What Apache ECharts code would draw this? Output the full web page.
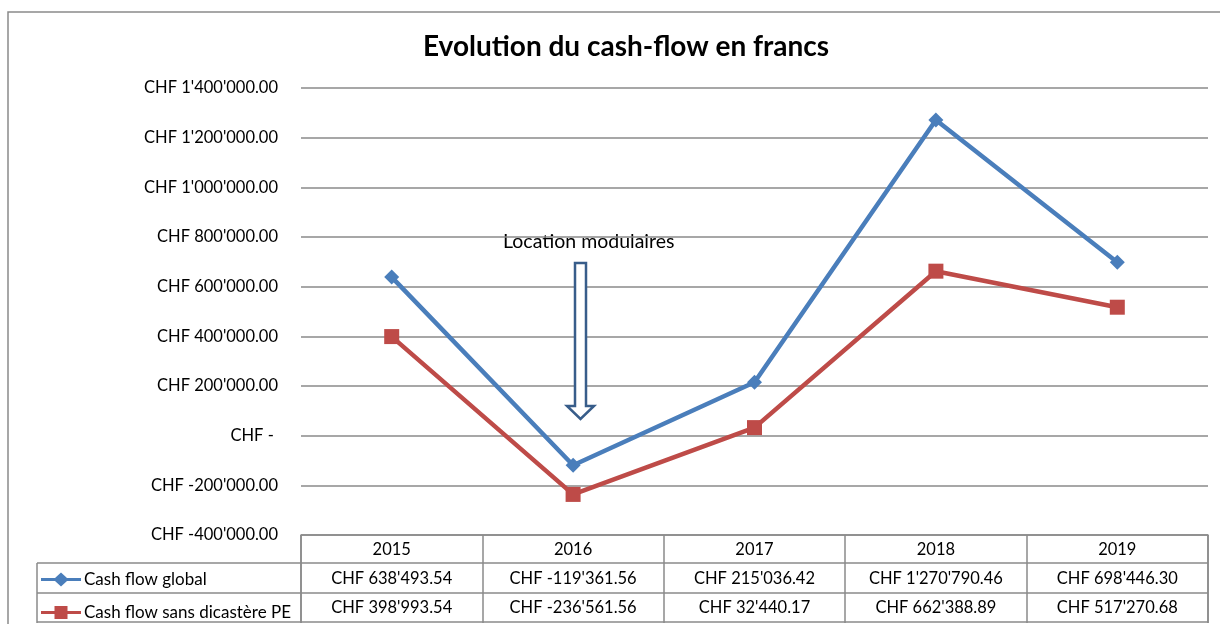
<!DOCTYPE html>
<html>
<head>
    <meta charset="utf-8" />
    <title>Evolution du cash-flow</title>
    <script src="https://cdn.jsdelivr.net/npm/echarts@6/dist/echarts.min.js"></script>
    <style>
        html, body { margin: 0; padding: 0; background: #fff; }
        #main { width: 1220px; height: 624px; }
    </style>
</head>
<body>
    <div id="main"></div>
    <script type="text/javascript">
        // donnees
        var years = ['2015', '2016', '2017', '2018', '2019'];
        var cashGlobal = [638493.54, -119361.56, 215036.42, 1270790.46, 698446.30];
        var cashSansPE = [398993.54, -236561.56, 32440.17, 662388.89, 517270.68];
        var seriesNames = ['Cash flow global', 'Cash flow sans dicastère PE'];

        var font = 'Lato, "Open Sans", sans-serif';
        var blue = '#4a7ebb';
        var red = '#be4b48';
        var gray = '#8a8a8a';

        // icones de legende facon Excel (ligne epaisse + marqueur)
        var iconDiamond = 'path://M0,5.5 H14 L20,0 L26,5.5 H40 V8.5 H26 L20,14 L14,8.5 H0 Z';
        var iconSquare = 'path://M0,5.5 H13.5 V0.5 H26.5 V5.5 H40 V8.5 H26.5 V13.5 H13.5 V8.5 H0 Z';

        function chf(v) {
            if (v === 0) return 'CHF - ';
            var neg = v < 0;
            var parts = Math.abs(v).toFixed(2).split('.');
            var s = parts[0].replace(/\B(?=(\d{3})+(?!\d))/g, "'");
            return 'CHF ' + (neg ? '-' : '') + s + '.' + parts[1];
        }

        var myChart = echarts.init(document.getElementById('main'));

        var L = 301, R = 1208, T = 88, B = 535;

        option = {
            backgroundColor: '#fff',
            animation: false,
            title: {
                text: 'Evolution du cash-flow en francs',
                left: 418,
                top: 28,
                textStyle: { fontFamily: font, fontSize: 28, fontWeight: 'bold', color: '#000' }
            },
            legend: {
                orient: 'vertical',
                left: 41,
                top: 571,
                padding: 0,
                itemWidth: 40,
                itemHeight: 14,
                itemGap: 16,
                textStyle: { fontFamily: font, fontSize: 17, color: '#000', padding: [0, 0, 0, -2] },
                data: [
                    { name: seriesNames[0], icon: iconDiamond },
                    { name: seriesNames[1], icon: iconSquare }
                ]
            },
            grid: { left: L, right: 1220 - R, top: T, bottom: 624 - B, containLabel: false },
            xAxis: {
                type: 'category',
                data: years,
                boundaryGap: true,
                axisLine: { show: true, onZero: false, lineStyle: { color: gray, width: 1.5 } },
                axisTick: { show: true, alignWithLabel: false, inside: false, length: 88, lineStyle: { color: gray, width: 1.5 } },
                axisLabel: {
                    margin: 0,
                    interval: 0,
                    formatter: function (val, idx) {
                        return '{y|' + val + '}\n{v|' + chf(cashGlobal[idx]) + '}\n{v|' + chf(cashSansPE[idx]) + '}';
                    },
                    rich: {
                        y: { fontFamily: font, fontSize: 16.5, color: '#000', lineHeight: 29 },
                        v: { fontFamily: font, fontSize: 16.5, color: '#000', lineHeight: 29 }
                    }
                }
            },
            yAxis: {
                type: 'value',
                min: -400000,
                max: 1400000,
                interval: 200000,
                axisLine: { show: false },
                axisTick: { show: false },
                axisLabel: {
                    margin: 23,
                    fontFamily: font,
                    fontSize: 16.5,
                    color: '#000',
                    formatter: function (v) { return chf(v); }
                },
                splitLine: { show: true, lineStyle: { color: gray, width: 1.5 } }
            },
            series: [{
                name: seriesNames[0],
                type: 'line',
                data: cashGlobal,
                symbol: 'diamond',
                symbolSize: 15,
                lineStyle: { color: blue, width: 4.5 },
                itemStyle: { color: blue },
                z: 3
            }, {
                name: seriesNames[1],
                type: 'line',
                data: cashSansPE,
                symbol: 'rect',
                symbolSize: 15,
                lineStyle: { color: red, width: 4.5 },
                itemStyle: { color: red },
                z: 2
            }],
            graphic: [
                // cadre du graphique
                { type: 'rect', shape: { x: 8, y: 12, width: 1240, height: 640 }, style: { fill: 'none', stroke: gray, lineWidth: 1.5 }, silent: true },
                // lignes du tableau
                { type: 'line', shape: { x1: 37, y1: 563, x2: R, y2: 563 }, style: { stroke: gray, lineWidth: 1.5 } },
                { type: 'line', shape: { x1: 37, y1: 593, x2: R, y2: 593 }, style: { stroke: gray, lineWidth: 1.5 } },
                { type: 'line', shape: { x1: 37, y1: 622, x2: R, y2: 622 }, style: { stroke: gray, lineWidth: 1.5 } },
                { type: 'line', shape: { x1: 37, y1: 563, x2: 37, y2: 623 }, style: { stroke: gray, lineWidth: 1.5 } },
                { type: 'line', shape: { x1: L, y1: 535, x2: L, y2: 623 }, style: { stroke: gray, lineWidth: 1.5 } },
                { type: 'line', shape: { x1: R, y1: 535, x2: R, y2: 623 }, style: { stroke: gray, lineWidth: 1.5 } },
                // annotation
                {
                    type: 'text', left: 503, top: 232,
                    style: { text: 'Location modulaires', fontFamily: font, fontSize: 19.5, fill: '#000' }
                },
                {
                    type: 'polygon',
                    shape: { points: [[575, 263], [586, 263], [586, 406], [594, 406], [580.5, 419], [567, 406], [575, 406]] },
                    style: { fill: '#fff', stroke: '#385d8a', lineWidth: 2.5 },
                    z: 10
                }
            ]
        };

        myChart.setOption(option);
    </script>
</body>
</html>
